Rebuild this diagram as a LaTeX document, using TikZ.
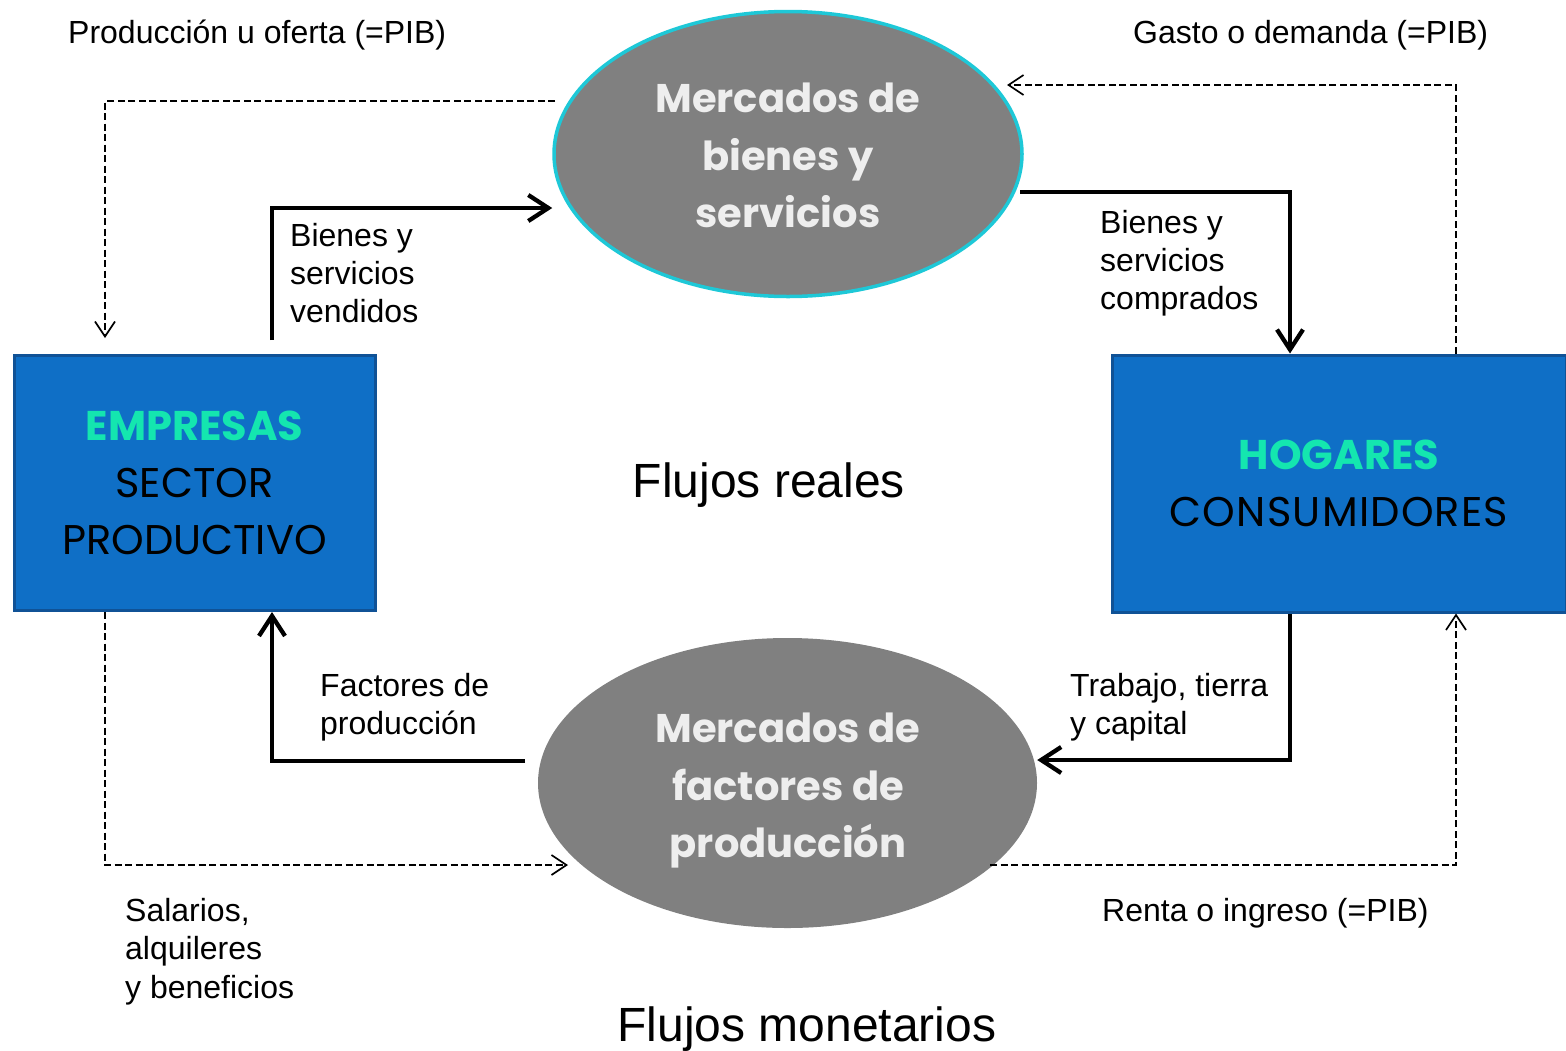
\documentclass[tikz,border=0pt]{standalone}
\usepackage{fontspec}
\setmainfont{Liberation Sans}
\newfontfamily\geofont{Poppins}
\usetikzlibrary{shapes.geometric,arrows.meta}
\definecolor{boxblue}{RGB}{15,111,198}
\definecolor{boxedge}{RGB}{16,82,150}
\definecolor{ellgray}{RGB}{128,128,128}
\definecolor{ellcyan}{RGB}{30,200,215}
\definecolor{titlegreen}{RGB}{20,230,175}
\definecolor{elltext}{RGB}{238,238,238}
\begin{document}
\begin{tikzpicture}[x=1pt,y=-1pt,
  lbl/.style={inner sep=0pt, font=\fontsize{32}{38.3}\selectfont, align=left},
  big/.style={inner sep=0pt, font=\fontsize{48}{56}\selectfont},
  sector/.style={draw=boxedge, line width=3pt, fill=boxblue, inner sep=0pt,
     align=center, font=\geofont\fontsize{41.5}{57}\selectfont},
  market/.style={ellipse, fill=ellgray, inner sep=0pt},
  mtext/.style={inner sep=0pt, align=center, text=elltext,
     font=\geofont\bfseries\fontsize{40}{57.5}\selectfont},
  flow/.style={line width=4.3pt, -{Straight Barb[length=20pt,width=26pt]}},
  money/.style={line width=1.7pt, dash pattern=on 7pt off 3.5pt,
     -{Straight Barb[length=15pt,width=20pt]}},
]
\useasboundingbox (0,0) rectangle (1566,1050);

% sectors
\node[sector, minimum width=361pt, minimum height=255pt] (emp) at (194.5,483)
  {\textcolor{titlegreen}{\bfseries EMPRESAS}\\SECTOR\\PRODUCTIVO};
\node[sector, minimum width=454pt, minimum height=257pt] (hog) at (1339,483.5)
  {\textcolor{titlegreen}{\bfseries HOGARES}\\{\addfontfeature{LetterSpace=3}CONSUMIDORES}};

% markets
\node[market, draw=ellcyan, line width=3.5pt, minimum width=468pt, minimum height=285pt] (mbs) at (788,154) {};
\node[market, minimum width=499pt, minimum height=290pt] (mfp) at (787.5,783) {};
\node[mtext, anchor=north] (mbst) at (788,83) {Mercados de\\bienes y\\servicios};
\node[mtext, anchor=north] (mfpt) at (788,713) {Mercados de\\factores de\\producción};

% labels
\node[lbl, anchor=base west] (prod) at (68,43) {Producción u oferta (=PIB)};
\node[lbl, anchor=base west] (gasto) at (1133,43) {Gasto o demanda (=PIB)};
\node[lbl, anchor=base west] (renta) at (1102,921) {Renta o ingreso (=PIB)};
\node[lbl, anchor=north west] (vend) at (290,223) {Bienes y\\servicios\\vendidos};
\node[lbl, anchor=north west] (comp) at (1100,210) {Bienes y\\servicios\\comprados};
\node[lbl, anchor=north west] (fact) at (320,673) {Factores de\\producción};
\node[lbl, anchor=north west] (trab) at (1070,673) {Trabajo, tierra\\y capital};
\node[lbl, anchor=north west] (sal) at (125,898) {Salarios,\\alquileres\\y beneficios};
\node[big, anchor=base] (reales) at (769,497) {Flujos reales};
\node[big, anchor=base] (monet) at (807,1041) {Flujos monetarios};

% free ends
\coordinate (f1) at (272,340);
\coordinate (f2) at (1020,192);
\coordinate (f4) at (525,761);
\coordinate (d1) at (555,101);
\coordinate (d1t) at (105,338);
\coordinate (d2t) at (1007,85);
\coordinate (d3t) at (568,865);
\coordinate (d4) at (990,865);

% real flows
\draw[flow] (f1) |- (mbs.west |- 0,208);
\draw[flow] (f2) -| (1290,0 |- hog.north);
\draw[flow] (1290,0 |- hog.south) |- (mfp.east |- 0,760);
\draw[flow] (f4) -| (272,0 |- emp.south);

% monetary flows
\draw[money] (d1) -| (d1t);
\draw[money] (1456,0 |- hog.north) |- (d2t);
\draw[money] (105,0 |- emp.south) |- (d3t);
\draw[money] (d4) -| (1456,0 |- hog.south);
\end{tikzpicture}
\end{document}
